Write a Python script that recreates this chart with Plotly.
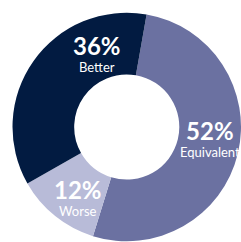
import plotly.graph_objects as go

categories = ["Equivalent", "Worse", "Better"]
values = [52, 12, 36]
colors = ["#6b71a1", "#b8bbd8", "#021b41"]

W, H = 241, 242
cx, cy, r = 127, 127, 114.5

# label centres in pixels from the top-left (x, y)
label_px = {
    "Equivalent": (210, 138),
    "Worse": (78, 197),
    "Better": (96.5, 52.5),
}

fig = go.Figure(
    go.Pie(
        labels=categories,
        values=values,
        marker=dict(colors=colors, line=dict(width=0)),
        hole=0.46,
        sort=False,
        direction="clockwise",
        rotation=10,
        textinfo="none",
        hoverinfo="skip",
        showlegend=False,
        domain=dict(x=[(cx - r) / W, 1], y=[(H - cy - r) / H, (H - cy + r) / H]),
    )
)

total = sum(values)
for cat, v in zip(categories, values):
    px, py = label_px[cat]
    pct = round(100 * v / total)
    fig.add_annotation(
        x=px / W, y=1 - py / H, xref="paper", yref="paper", showarrow=False,
        text=f"<span style='font-size:24px'><b>{pct}%</b></span><br>{cat}",
        font=dict(family="Lato", size=13, color="white"),
        xanchor="center", yanchor="middle", align="center", borderpad=0,
    )

fig.update_layout(
    width=W, height=H,
    margin=dict(l=0, r=0, t=0, b=0),
    paper_bgcolor="white",
    plot_bgcolor="white",
)

fig.write_html(
    "out.html",
    config={"displayModeBar": False},
    post_script="document.body.style.margin='0';document.documentElement.style.overflow='hidden';",
)
